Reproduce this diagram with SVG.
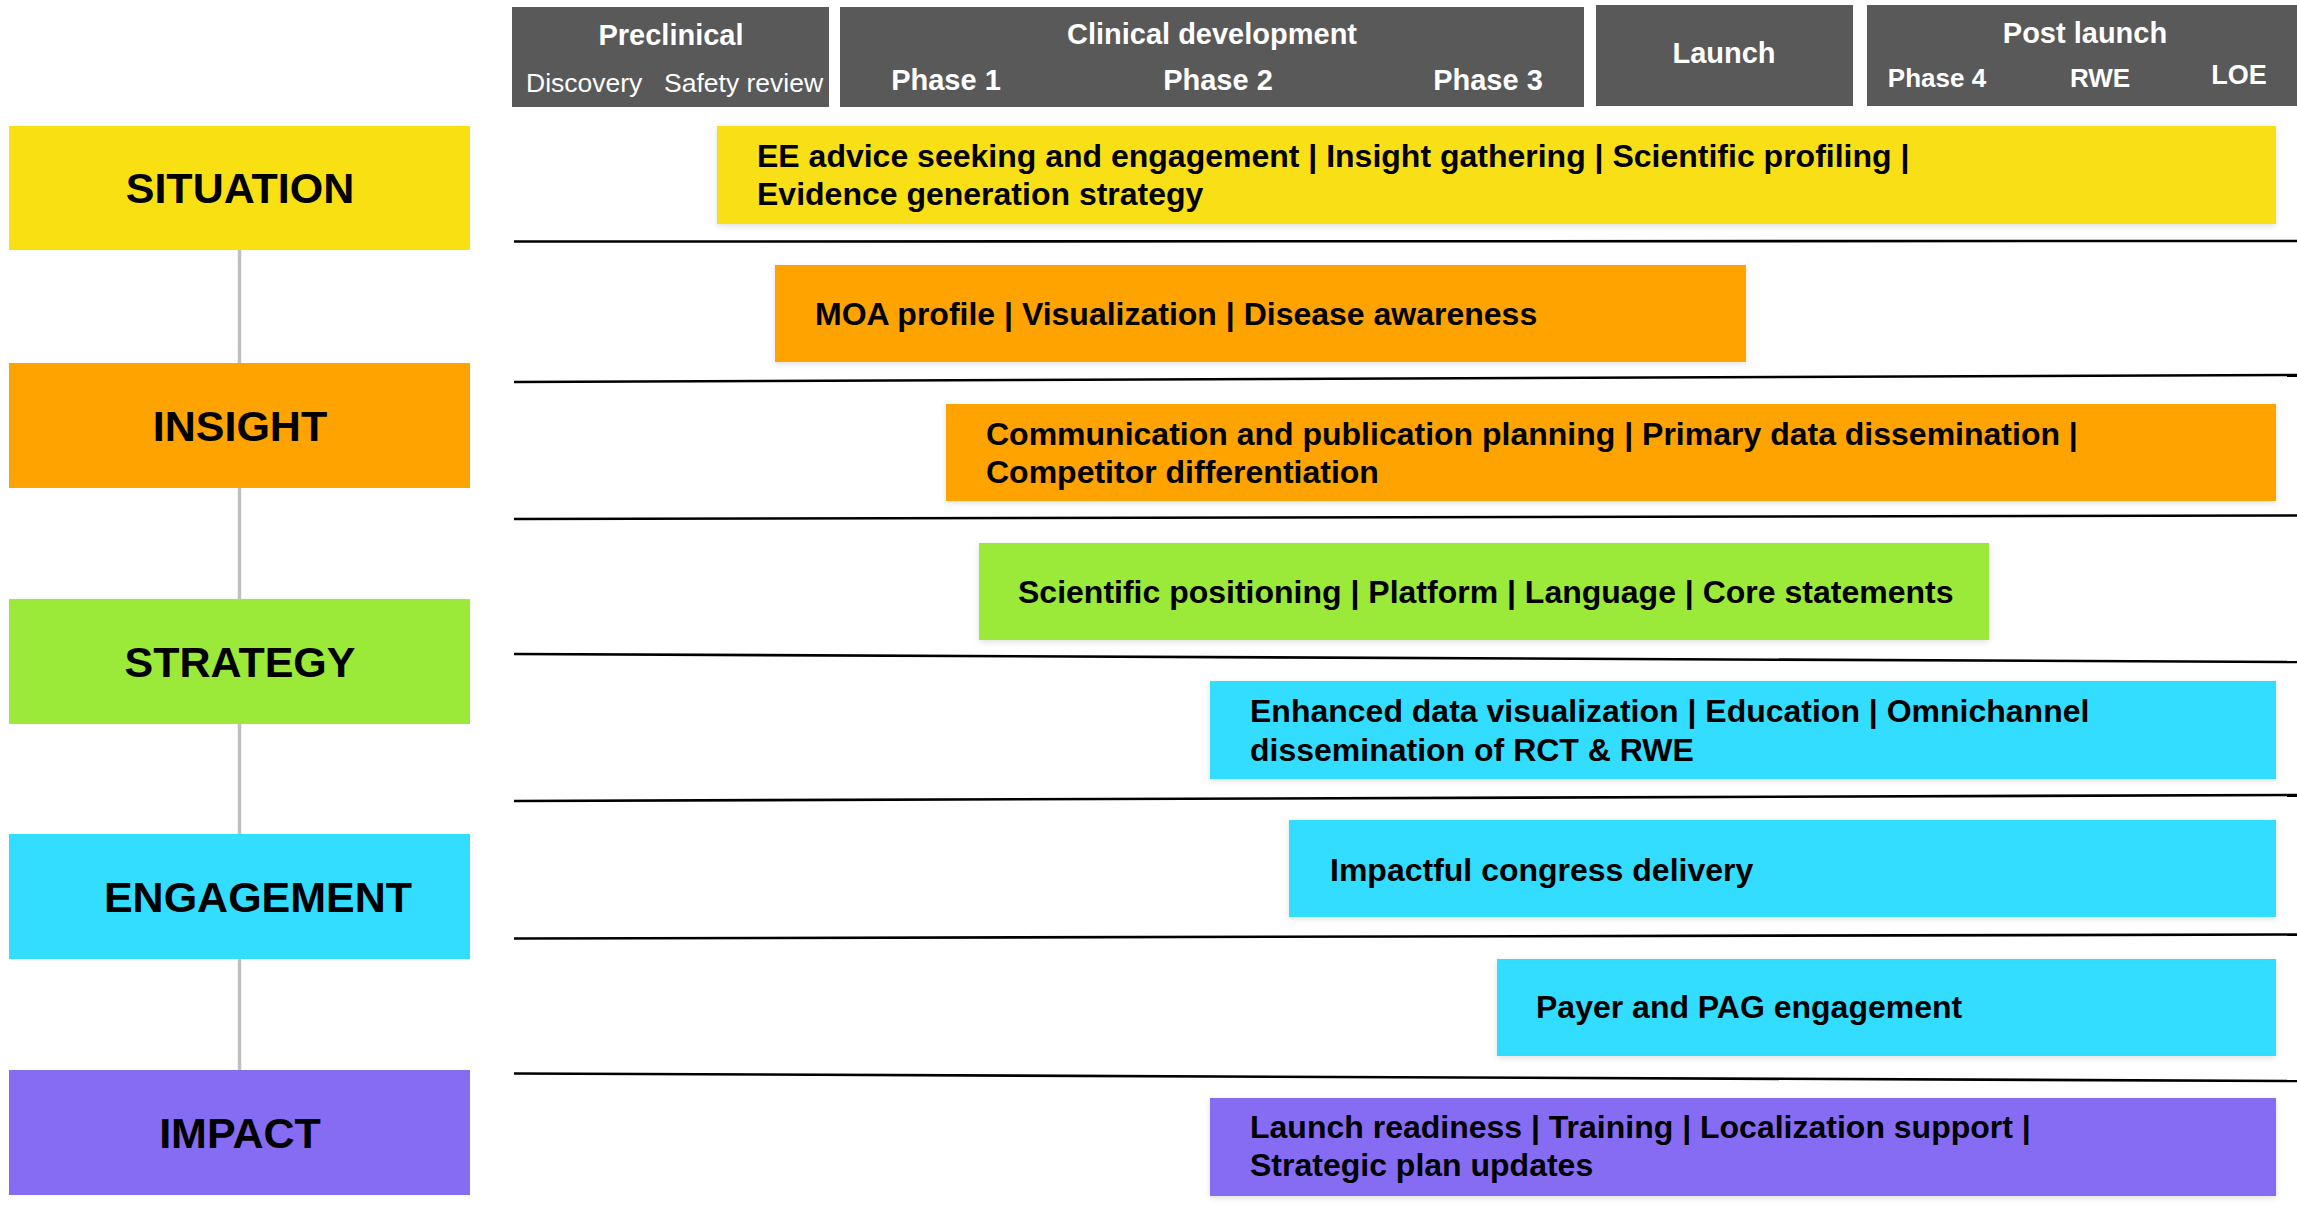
<svg xmlns="http://www.w3.org/2000/svg" width="2297" height="1212" viewBox="0 0 2297 1212">
<defs>
<filter id="sh" x="-5%" y="-20%" width="110%" height="140%">
<feDropShadow dx="0" dy="2" stdDeviation="3" flood-color="#000" flood-opacity="0.12"/>
</filter>
</defs>
<style>
text{font-family:"Liberation Sans",Arial,Helvetica,sans-serif}
.hdr{fill:#595959}
.ht{fill:#fff;font-weight:bold;font-size:29px;text-anchor:middle}
.hs{fill:#fff;font-size:26.5px}
.hp{fill:#fff;font-weight:bold;font-size:29px;text-anchor:middle}
.hp4{fill:#fff;font-weight:bold;font-size:26px;text-anchor:middle}
.lab{font-weight:bold;font-size:43px;text-anchor:middle;fill:#000}
.bt{font-weight:bold;font-size:32px;fill:#000}
.bar{filter:url(#sh)}
.y{fill:#F9E012}
.o{fill:#FFA300}
.g{fill:#9BE938}
.c{fill:#33DDFF}
.p{fill:#866CF2}
.sep{stroke:#000;stroke-width:2.6;fill:none}
.con{stroke:#C0C0C0;stroke-width:3.5;fill:none}
</style>
<rect width="2297" height="1212" fill="#fff"/>

<g id="header">
<g id="h-preclinical">
<rect class="hdr" x="512" y="7" width="317" height="100"/>
<text class="ht" x="671" y="45">Preclinical</text>
<text class="hs" x="526" y="91.5">Discovery</text>
<text class="hs" x="664" y="91.5">Safety review</text>
</g>
<g id="h-clinical">
<rect class="hdr" x="840" y="7" width="744" height="100"/>
<text class="ht" x="1212" y="44">Clinical development</text>
<text class="hp" x="946" y="90">Phase 1</text>
<text class="hp" x="1218" y="90">Phase 2</text>
<text class="hp" x="1488" y="90">Phase 3</text>
</g>
<g id="h-launch">
<rect class="hdr" x="1596" y="5" width="257" height="101"/>
<text class="ht" x="1724" y="63">Launch</text>
</g>
<g id="h-postlaunch">
<rect class="hdr" x="1867" y="5" width="430" height="101"/>
<text class="ht" x="2085" y="42.5">Post launch</text>
<text class="hp4" x="1937" y="87">Phase 4</text>
<text class="hp4" x="2100" y="87">RWE</text>
<text class="hp4" x="2239" y="84" style="font-size:27px">LOE</text>
</g>
</g>

<g id="separators">
<line class="sep" x1="514" y1="241.5" x2="2297" y2="241"/>
<line class="sep" x1="514" y1="382" x2="2297" y2="375"/>
<line class="sep" x1="514" y1="519" x2="2297" y2="515.5"/>
<line class="sep" x1="514" y1="654" x2="2297" y2="662"/>
<line class="sep" x1="514" y1="801" x2="2297" y2="795"/>
<line class="sep" x1="514" y1="938.5" x2="2297" y2="934.5"/>
<line class="sep" x1="514" y1="1073.5" x2="2297" y2="1081"/>
</g>

<g id="connectors">
<line class="con" x1="239.5" y1="250" x2="239.5" y2="363"/>
<line class="con" x1="239.5" y1="488" x2="239.5" y2="599"/>
<line class="con" x1="239.5" y1="724" x2="239.5" y2="834"/>
<line class="con" x1="239.5" y1="959" x2="239.5" y2="1070"/>
</g>

<g id="situation">
<rect class="y" x="9" y="126" width="461" height="124"/>
<text class="lab" x="240" y="203">SITUATION</text>
</g>
<g id="insight">
<rect class="o" x="9" y="363" width="461" height="125"/>
<text class="lab" x="240" y="440.5">INSIGHT</text>
</g>
<g id="strategy">
<rect class="g" x="9" y="599" width="461" height="125"/>
<text class="lab" x="240" y="676.5">STRATEGY</text>
</g>
<g id="engagement">
<rect class="c" x="9" y="834" width="461" height="125"/>
<text class="lab" x="258" y="912">ENGAGEMENT</text>
</g>
<g id="impact">
<rect class="p" x="9" y="1070" width="461" height="125"/>
<text class="lab" x="240" y="1148">IMPACT</text>
</g>

<g id="bar-situation">
<rect class="bar y" x="717" y="126" width="1559" height="98"/>
<text class="bt" x="757" y="167">EE advice seeking and engagement | Insight gathering | Scientific profiling |</text>
<text class="bt" x="757" y="205">Evidence generation strategy</text>
</g>
<g id="bar-moa">
<rect class="bar o" x="775" y="265" width="971" height="97"/>
<text class="bt" x="815" y="325">MOA profile | Visualization | Disease awareness</text>
</g>
<g id="bar-communication">
<rect class="bar o" x="946" y="404" width="1330" height="97"/>
<text class="bt" x="986" y="445">Communication and publication planning | Primary data dissemination |</text>
<text class="bt" x="986" y="483">Competitor differentiation</text>
</g>
<g id="bar-positioning">
<rect class="bar g" x="979" y="543" width="1010" height="97"/>
<text class="bt" x="1018" y="603">Scientific positioning | Platform | Language | Core statements</text>
</g>
<g id="bar-visualization">
<rect class="bar c" x="1210" y="681" width="1066" height="98"/>
<text class="bt" x="1250" y="722">Enhanced data visualization | Education | Omnichannel</text>
<text class="bt" x="1250" y="761">dissemination of RCT &amp; RWE</text>
</g>
<g id="bar-congress">
<rect class="bar c" x="1289" y="820" width="987" height="97"/>
<text class="bt" x="1330" y="881">Impactful congress delivery</text>
</g>
<g id="bar-payer">
<rect class="bar c" x="1497" y="959" width="779" height="97"/>
<text class="bt" x="1536" y="1018">Payer and PAG engagement</text>
</g>
<g id="bar-launch">
<rect class="bar p" x="1210" y="1098" width="1066" height="98"/>
<text class="bt" x="1250" y="1138">Launch readiness | Training | Localization support |</text>
<text class="bt" x="1250" y="1176">Strategic plan updates</text>
</g>
</svg>
